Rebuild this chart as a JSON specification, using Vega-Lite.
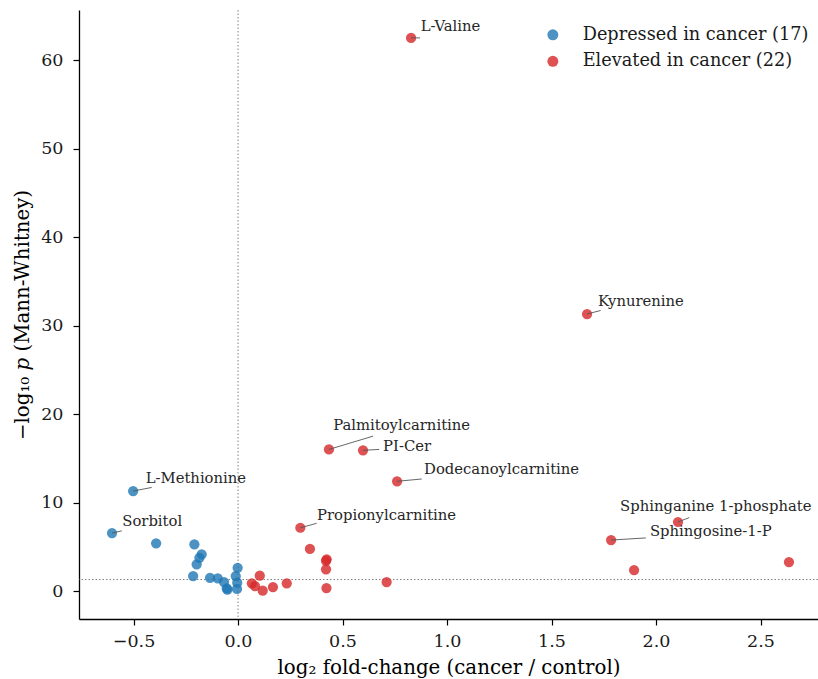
{
  "$schema": "https://vega.github.io/schema/vega-lite/v6.json",
  "width": 739,
  "height": 609,
  "autosize": {"type": "none"},
  "padding": {"left": 79, "top": 10, "right": 0, "bottom": 60},
  "background": "white",
  "config": {
    "view": {"stroke": null},
    "font": "DejaVu Serif",
    "axis": {
      "grid": false,
      "domainColor": "#000000",
      "domainWidth": 1.3,
      "tickColor": "#000000",
      "tickWidth": 1.2,
      "tickSize": 6,
      "labelFont": "DejaVu Serif",
      "labelFontSize": 17.5,
      "labelColor": "#1a1a1a",
      "titleFont": "DejaVu Serif",
      "titleFontSize": 19.8,
      "titleFontWeight": "normal",
      "titleColor": "#000000"
    }
  },
  "data": {
    "values": [
      {"name": "Sorbitol", "group": "Depressed in cancer (17)", "fc": -0.603, "p": 6.55, "lx": -0.554, "ly": 7.83, "ex": -0.556, "ey": 6.8},
      {"name": "L-Methionine", "group": "Depressed in cancer (17)", "fc": -0.502, "p": 11.3, "lx": -0.442, "ly": 12.66, "ex": -0.413, "ey": 11.7},
      {"name": "", "group": "Depressed in cancer (17)", "fc": -0.392, "p": 5.39},
      {"name": "", "group": "Depressed in cancer (17)", "fc": -0.209, "p": 5.28},
      {"name": "", "group": "Depressed in cancer (17)", "fc": -0.174, "p": 4.15},
      {"name": "", "group": "Depressed in cancer (17)", "fc": -0.185, "p": 3.76},
      {"name": "", "group": "Depressed in cancer (17)", "fc": -0.198, "p": 3.02},
      {"name": "", "group": "Depressed in cancer (17)", "fc": -0.215, "p": 1.69},
      {"name": "", "group": "Depressed in cancer (17)", "fc": -0.134, "p": 1.5},
      {"name": "", "group": "Depressed in cancer (17)", "fc": -0.097, "p": 1.44},
      {"name": "", "group": "Depressed in cancer (17)", "fc": -0.067, "p": 1.02},
      {"name": "", "group": "Depressed in cancer (17)", "fc": -0.054, "p": 0.31},
      {"name": "", "group": "Depressed in cancer (17)", "fc": -0.051, "p": 0.15},
      {"name": "", "group": "Depressed in cancer (17)", "fc": -0.011, "p": 1.69},
      {"name": "", "group": "Depressed in cancer (17)", "fc": -0.002, "p": 2.63},
      {"name": "", "group": "Depressed in cancer (17)", "fc": -0.004, "p": 0.94},
      {"name": "", "group": "Depressed in cancer (17)", "fc": -0.005, "p": 0.23},
      {"name": "L-Valine", "group": "Elevated in cancer (22)", "fc": 0.828, "p": 62.5, "lx": 0.874, "ly": 63.76, "ex": 0.871, "ey": 62.5},
      {"name": "Kynurenine", "group": "Elevated in cancer (22)", "fc": 1.67, "p": 31.3, "lx": 1.722, "ly": 32.69, "ex": 1.735, "ey": 31.7},
      {"name": "Palmitoylcarnitine", "group": "Elevated in cancer (22)", "fc": 0.435, "p": 16.0, "lx": 0.455, "ly": 18.64, "ex": 0.646, "ey": 17.5},
      {"name": "PI-Cer", "group": "Elevated in cancer (22)", "fc": 0.598, "p": 15.9, "lx": 0.694, "ly": 16.27, "ex": 0.675, "ey": 16.0},
      {"name": "Dodecanoylcarnitine", "group": "Elevated in cancer (22)", "fc": 0.761, "p": 12.4, "lx": 0.89, "ly": 13.67, "ex": 0.879, "ey": 12.66},
      {"name": "Propionylcarnitine", "group": "Elevated in cancer (22)", "fc": 0.298, "p": 7.15, "lx": 0.378, "ly": 8.47, "ex": 0.376, "ey": 7.65},
      {"name": "Sphinganine 1-phosphate", "group": "Elevated in cancer (22)", "fc": 2.105, "p": 7.8, "lx": 1.828, "ly": 9.46, "ex": 2.159, "ey": 8.3},
      {"name": "Sphingosine-1-P", "group": "Elevated in cancer (22)", "fc": 1.785, "p": 5.76, "lx": 1.971, "ly": 6.7, "ex": 1.951, "ey": 6.0},
      {"name": "", "group": "Elevated in cancer (22)", "fc": 1.895, "p": 2.37},
      {"name": "", "group": "Elevated in cancer (22)", "fc": 2.636, "p": 3.28},
      {"name": "", "group": "Elevated in cancer (22)", "fc": 0.344, "p": 4.75},
      {"name": "", "group": "Elevated in cancer (22)", "fc": 0.424, "p": 3.58},
      {"name": "", "group": "Elevated in cancer (22)", "fc": 0.421, "p": 3.42},
      {"name": "", "group": "Elevated in cancer (22)", "fc": 0.421, "p": 2.45},
      {"name": "", "group": "Elevated in cancer (22)", "fc": 0.423, "p": 0.34},
      {"name": "", "group": "Elevated in cancer (22)", "fc": 0.711, "p": 1.02},
      {"name": "", "group": "Elevated in cancer (22)", "fc": 0.066, "p": 0.87},
      {"name": "", "group": "Elevated in cancer (22)", "fc": 0.081, "p": 0.56},
      {"name": "", "group": "Elevated in cancer (22)", "fc": 0.104, "p": 1.73},
      {"name": "", "group": "Elevated in cancer (22)", "fc": 0.118, "p": 0.04},
      {"name": "", "group": "Elevated in cancer (22)", "fc": 0.167, "p": 0.45},
      {"name": "", "group": "Elevated in cancer (22)", "fc": 0.233, "p": 0.87}
    ]
  },
  "layer": [
    {
      "data": {"values": [{"v": 0}]},
      "mark": {"type": "rule", "color": "#808080", "strokeWidth": 1, "strokeDash": [1.5, 2]},
      "encoding": {"x": {"field": "v", "type": "quantitative", "scale": {"domain": [-0.761, 2.775]}}}
    },
    {
      "data": {"values": [{"t": 1.301}]},
      "mark": {"type": "rule", "color": "#808080", "strokeWidth": 1, "strokeDash": [1.5, 2]},
      "encoding": {"y": {"field": "t", "type": "quantitative", "scale": {"domain": [-3.16, 65.65]}}}
    },
    {
      "mark": {"type": "point", "filled": true, "size": 105, "opacity": 0.8, "shape": "circle"},
      "encoding": {
        "x": {
          "field": "fc", "type": "quantitative",
          "scale": {"domain": [-0.761, 2.775], "nice": false, "zero": false},
          "axis": {"title": "log₂ fold-change (cancer / control)", "values": [-0.5, 0, 0.5, 1, 1.5, 2, 2.5], "format": ".1f", "titlePadding": 8, "labelPadding": 7}
        },
        "y": {
          "field": "p", "type": "quantitative",
          "scale": {"domain": [-3.16, 65.65], "nice": false, "zero": false},
          "axis": {"title": "−log₁₀ 𝑝 (Mann-Whitney)", "values": [0, 10, 20, 30, 40, 50, 60], "titlePadding": 8, "labelPadding": 10}
        },
        "color": {
          "field": "group", "type": "nominal",
          "scale": {"domain": ["Depressed in cancer (17)", "Elevated in cancer (22)"], "range": ["#1f77b4", "#d62728"]},
          "legend": {
            "title": null,
            "orient": "none",
            "legendX": 465,
            "legendY": 16,
            "labelFont": "DejaVu Serif",
            "labelFontSize": 17.7,
            "labelLimit": 0,
            "labelColor": "#1a1a1a",
            "symbolSize": 120,
            "symbolOpacity": 0.8,
            "symbolStrokeWidth": 0,
            "rowPadding": 7.5,
            "labelOffset": 21
          }
        }
      }
    },
    {
      "transform": [{"filter": "datum.name != ''"}],
      "mark": {"type": "rule", "color": "#555555", "strokeWidth": 0.9},
      "encoding": {
        "x": {"field": "fc", "type": "quantitative"},
        "y": {"field": "p", "type": "quantitative"},
        "x2": {"field": "ex"},
        "y2": {"field": "ey"}
      }
    },
    {
      "transform": [{"filter": "datum.name != ''"}],
      "mark": {"type": "text", "align": "left", "baseline": "middle", "font": "DejaVu Serif", "fontSize": 14.8, "color": "#262626"},
      "encoding": {
        "x": {"field": "lx", "type": "quantitative"},
        "y": {"field": "ly", "type": "quantitative"},
        "text": {"field": "name"}
      }
    }
  ]
}
